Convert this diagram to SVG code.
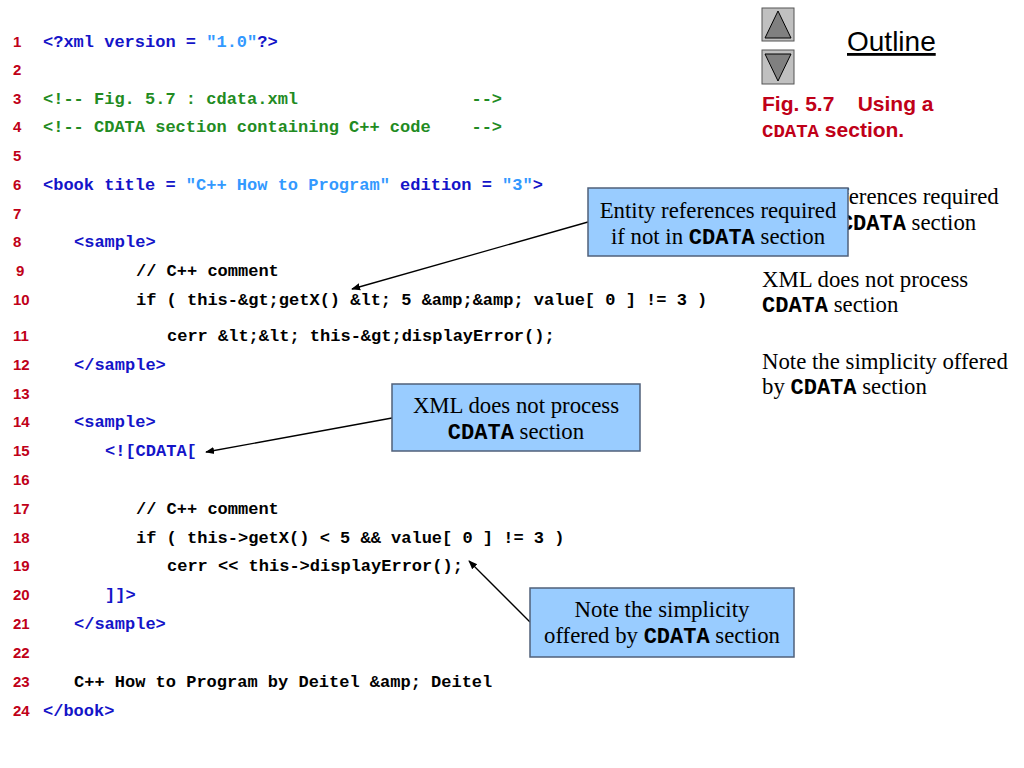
<svg xmlns="http://www.w3.org/2000/svg" width="1024" height="768" viewBox="0 0 1024 768">
<defs>
<marker id="ah" viewBox="0 0 10 10" refX="9" refY="5" markerWidth="9" markerHeight="9" markerUnits="userSpaceOnUse" orient="auto">
<path d="M0,1 L10,5 L0,9 z" fill="#000"/>
</marker>
<style>
.code{font-family:"Liberation Mono","Courier New",monospace;font-weight:bold;font-size:17px;fill:#000;white-space:pre}
.ln{font-family:"Liberation Sans",Arial,sans-serif;font-weight:bold;font-size:15px;fill:#c00018}
.tag{fill:#1414c8}
.val{fill:#3399ff}
.cm{fill:#228b22}
.box{fill:#99ccff;stroke:#50607a;stroke-width:1.5}
.bt{font-family:"Liberation Serif","Times New Roman",serif;font-size:22.8px;fill:#000}
.mono{font-family:"Liberation Mono","Courier New",monospace;font-weight:bold;font-size:22px}
.conn{stroke:#000;stroke-width:1.3;fill:none;marker-end:url(#ah)}
.fig{font-family:"Liberation Sans",Arial,sans-serif;font-weight:bold;font-size:21px;fill:#c00018;white-space:pre}
</style>
</defs>
<rect width="1024" height="768" fill="#fff"/>

<g id="line-numbers" class="ln">
<text x="13" y="47">1</text>
<text x="13" y="75">2</text>
<text x="13" y="104">3</text>
<text x="13" y="132">4</text>
<text x="13" y="161">5</text>
<text x="13" y="190">6</text>
<text x="13" y="219">7</text>
<text x="13" y="247">8</text>
<text x="16" y="276">9</text>
<text x="13" y="305">10</text>
<text x="13" y="341">11</text>
<text x="13" y="370">12</text>
<text x="13" y="399">13</text>
<text x="13" y="427">14</text>
<text x="13" y="456">15</text>
<text x="13" y="485">16</text>
<text x="13" y="514">17</text>
<text x="13" y="543">18</text>
<text x="13" y="571">19</text>
<text x="13" y="600">20</text>
<text x="13" y="629">21</text>
<text x="13" y="658">22</text>
<text x="13" y="687">23</text>
<text x="13" y="716">24</text>
</g>

<g id="code" class="code">
<text x="43" y="47" xml:space="preserve"><tspan class="tag">&lt;?xml version = </tspan><tspan class="val">"1.0"</tspan><tspan class="tag">?&gt;</tspan></text>
<text x="43" y="104" class="cm" xml:space="preserve">&lt;!-- Fig. 5.7 : cdata.xml                 --&gt;</text>
<text x="43" y="132" class="cm" xml:space="preserve">&lt;!-- CDATA section containing C++ code    --&gt;</text>
<text x="43" y="190" xml:space="preserve"><tspan class="tag">&lt;book title = </tspan><tspan class="val">"C++ How to Program"</tspan><tspan class="tag"> edition = </tspan><tspan class="val">"3"</tspan><tspan class="tag">&gt;</tspan></text>
<text x="74" y="247" class="tag">&lt;sample&gt;</text>
<text x="136" y="276" xml:space="preserve">// C++ comment</text>
<text x="136" y="305" xml:space="preserve">if ( this-&amp;gt;getX() &amp;lt; 5 &amp;amp;&amp;amp; value[ 0 ] != 3 )</text>
<text x="167" y="341" xml:space="preserve">cerr &amp;lt;&amp;lt; this-&amp;gt;displayError();</text>
<text x="74" y="370" class="tag">&lt;/sample&gt;</text>
<text x="74" y="427" class="tag">&lt;sample&gt;</text>
<text x="105" y="456" class="tag">&lt;![CDATA[</text>
<text x="136" y="514" xml:space="preserve">// C++ comment</text>
<text x="136" y="543" xml:space="preserve">if ( this-&gt;getX() &lt; 5 &amp;&amp; value[ 0 ] != 3 )</text>
<text x="167" y="571" xml:space="preserve">cerr &lt;&lt; this-&gt;displayError();</text>
<text x="105" y="600" class="tag">]]&gt;</text>
<text x="74" y="629" class="tag">&lt;/sample&gt;</text>
<text x="74" y="687" xml:space="preserve">C++ How to Program by Deitel &amp;amp; Deitel</text>
<text x="43" y="716" class="tag">&lt;/book&gt;</text>
</g>

<g id="nav-up">
<rect x="762" y="8" width="32" height="33" fill="#c0c0c0" stroke="#555" stroke-width="1"/>
<polygon points="765,38 778,11 791,38" fill="#808080" stroke="#000" stroke-width="1"/>
</g>
<g id="nav-down">
<rect x="762" y="50" width="32" height="34" fill="#c0c0c0" stroke="#555" stroke-width="1"/>
<polygon points="765,54 791,54 778,81" fill="#808080" stroke="#000" stroke-width="1"/>
</g>
<g id="outline-title">
<text x="847" y="51" font-family="Liberation Sans, Arial, sans-serif" font-size="28" text-decoration="underline" fill="#000">Outline</text>
</g>
<g id="fig-caption">
<text x="762" y="111" class="fig" xml:space="preserve">Fig. 5.7    Using a</text>
<text x="762" y="137" class="fig"><tspan font-family="Liberation Mono, Courier New, monospace" font-size="19">CDATA</tspan> section.</text>
</g>

<g id="side-notes" class="bt">
<text x="762" y="204">Entity references required</text>
<text x="762" y="230">if not in <tspan class="mono">CDATA</tspan> section</text>
<text x="762" y="287">XML does not process</text>
<text x="762" y="312"><tspan class="mono">CDATA</tspan> section</text>
<text x="762" y="369">Note the simplicity offered</text>
<text x="762" y="394">by <tspan class="mono">CDATA</tspan> section</text>
</g>

<g id="connectors">
<line class="conn" x1="588" y1="222" x2="352" y2="289"/>
<line class="conn" x1="392" y1="418" x2="206" y2="452"/>
<line class="conn" x1="530" y1="622" x2="469" y2="561"/>
</g>

<g id="callout-entity">
<rect class="box" x="588" y="188" width="260" height="68"/>
<text class="bt" x="718" y="218" text-anchor="middle">Entity references required</text>
<text class="bt" x="718" y="244" text-anchor="middle">if not in <tspan class="mono">CDATA</tspan> section</text>
</g>
<g id="callout-process">
<rect class="box" x="392" y="384" width="248" height="67"/>
<text class="bt" x="516" y="413" text-anchor="middle">XML does not process</text>
<text class="bt" x="516" y="439" text-anchor="middle"><tspan class="mono">CDATA</tspan> section</text>
</g>
<g id="callout-simplicity">
<rect class="box" x="530" y="588" width="264" height="69"/>
<text class="bt" x="662" y="617" text-anchor="middle">Note the simplicity</text>
<text class="bt" x="662" y="643" text-anchor="middle">offered by <tspan class="mono">CDATA</tspan> section</text>
</g>
</svg>
